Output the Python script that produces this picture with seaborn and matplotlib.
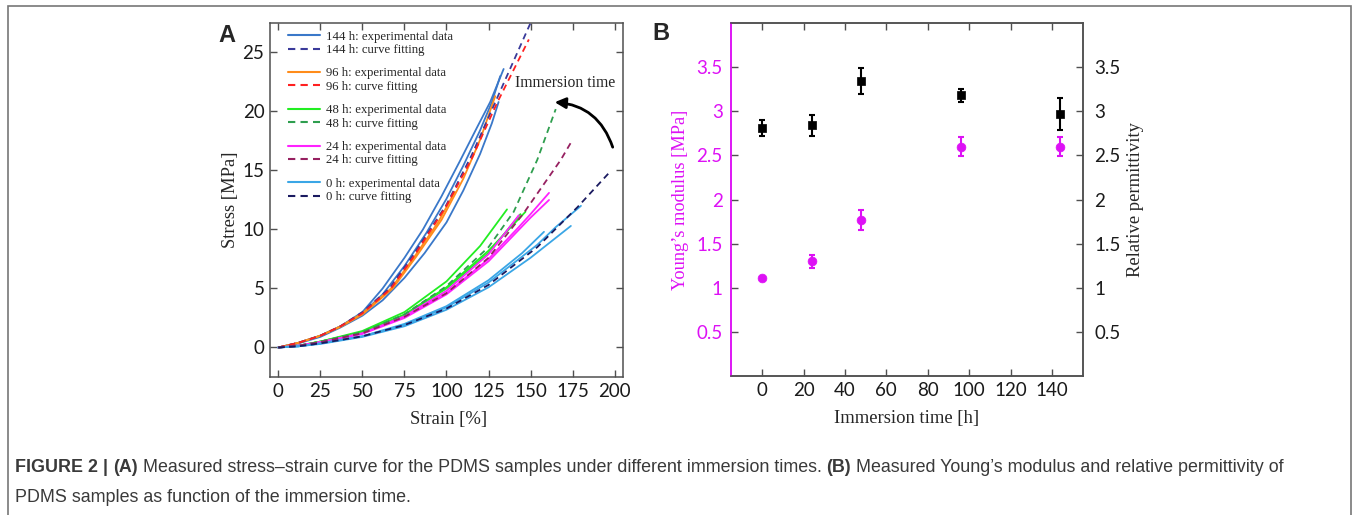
import matplotlib
matplotlib.use("Agg")
import seaborn as sns
import matplotlib.pyplot as plt
from matplotlib.lines import Line2D
from matplotlib.legend import Legend
from matplotlib.patches import Rectangle

# ---------------- Panel A: stress-strain curves (strain %, stress MPa) ----------------
exp_144h = [
    ([0, 12, 25, 37, 50, 62, 75, 86, 97, 108, 118, 126, 134],
     [0, 0.4, 1.0, 1.8, 3.0, 5.0, 7.6, 10.0, 12.8, 15.8, 18.6, 20.8, 23.6]),
    ([0, 12, 25, 37, 50, 62, 75, 88, 100, 110, 120, 127, 132],
     [0, 0.4, 1.0, 1.8, 2.9, 4.5, 6.9, 9.7, 12.6, 15.4, 18.4, 20.8, 23.0]),
    ([0, 12, 25, 37, 50, 62, 75, 87, 100, 110, 120, 127, 131],
     [0, 0.35, 0.9, 1.7, 2.7, 4.0, 5.9, 8.0, 10.6, 13.3, 16.4, 19.0, 20.8]),
]
fit_144h = ([0, 12, 25, 37, 50, 66, 80, 100, 115, 125, 150],
            [0, 0.4, 1.0, 1.8, 3.0, 5.0, 7.8, 12.1, 16.3, 19.5, 27.5])

exp_96h = [
    ([0, 12, 25, 37, 50, 67, 80, 95, 105],
     [0, 0.4, 1.0, 1.8, 2.9, 5.0, 7.5, 10.6, 13.2]),
    ([0, 12, 25, 37, 50, 68, 82, 97, 110, 120, 129],
     [0, 0.4, 1.0, 1.75, 2.8, 5.0, 7.7, 10.8, 14.3, 17.6, 21.3]),
]
fit_96h = ([0, 12, 25, 37, 50, 67, 80, 100, 115, 130, 149],
           [0, 0.4, 1.0, 1.8, 2.9, 5.0, 7.6, 12.0, 16.0, 20.7, 26.1])

exp_48h = [
    ([0, 12, 25, 50, 75, 100, 120, 136], [0, 0.15, 0.5, 1.4, 3.0, 5.6, 8.6, 11.7]),
    ([0, 12, 25, 50, 75, 100, 125, 147], [0, 0.15, 0.5, 1.3, 2.8, 5.1, 8.2, 11.5]),
    ([0, 12, 25, 50, 75, 100, 125, 144], [0, 0.15, 0.5, 1.3, 2.75, 5.0, 8.0, 11.3]),
]
fit_48h = ([0, 12, 25, 50, 75, 100, 125, 140, 154, 165],
           [0, 0.15, 0.5, 1.3, 2.8, 5.2, 8.5, 11.5, 15.9, 20.2])

exp_24h = [
    ([0, 12, 25, 50, 75, 100, 125, 143, 150, 161], [0, 0.15, 0.45, 1.2, 2.6, 4.6, 7.5, 10.2, 11.3, 13.1]),
    ([0, 12, 25, 50, 75, 100, 125, 150, 161], [0, 0.15, 0.45, 1.15, 2.5, 4.5, 7.3, 11.0, 12.5]),
    ([0, 12, 25, 50, 75, 100, 125, 143], [0, 0.15, 0.45, 1.2, 2.65, 4.8, 7.9, 11.2]),
]
fit_24h = ([0, 12, 25, 50, 75, 100, 125, 146, 168, 175],
           [0, 0.15, 0.45, 1.2, 2.6, 4.6, 7.6, 11.4, 15.9, 17.6])

exp_0h = [
    ([0, 12, 25, 50, 75, 100, 125, 145, 158], [0, 0.1, 0.35, 0.95, 2.0, 3.5, 5.7, 8.0, 9.8]),
    ([0, 12, 25, 50, 75, 100, 125, 150, 174], [0, 0.1, 0.3, 0.9, 1.8, 3.2, 5.1, 7.6, 10.3]),
    ([0, 12, 25, 50, 75, 100, 125, 154, 165, 180], [0, 0.1, 0.35, 0.95, 1.9, 3.4, 5.5, 8.7, 10.2, 12.0]),
]
fit_0h = ([0, 12, 25, 50, 75, 100, 125, 154, 178, 198],
          [0, 0.1, 0.35, 0.95, 1.9, 3.3, 5.3, 8.5, 11.9, 15.0])

groups = ["144 h", "96 h", "48 h", "24 h", "0 h"]
exp_colors = ["#3a78c9", "#ff8c1a", "#22ee22", "#ff22ff", "#3aa6e6"]
fit_colors = ["#3a3a9a", "#ff2020", "#2e9e4e", "#962060", "#1a1a60"]

# ---------------- Panel B: modulus and permittivity ----------------
time_h = [0, 24, 48, 96, 144]
modulus = [1.11, 1.30, 1.77, 2.60, 2.60]
modulus_err = [0.0, 0.075, 0.11, 0.11, 0.11]
permittivity = [2.81, 2.84, 3.34, 3.18, 2.97]
permittivity_err = [0.09, 0.12, 0.15, 0.07, 0.18]

SPINE = "#505050"
MAGENTA = "#dd11f5"
SERIF = ["Liberation Serif", "DejaVu Serif"]

sns.set_style("ticks")
plt.rcParams["font.family"] = ["Lato", "DejaVu Sans"]

fig = plt.figure(figsize=(13.54, 5.15), dpi=100)
fig.patch.set_facecolor("white")

ax = fig.add_axes([0.1994, 0.268, 0.2607, 0.6874])
axb = fig.add_axes([0.5399, 0.2699, 0.26, 0.6854])

# panel A curves
exp_sets = [exp_144h, exp_96h, exp_48h, exp_24h, exp_0h]
fit_sets = [fit_144h, fit_96h, fit_48h, fit_24h, fit_0h]
for curves, col in zip(exp_sets, exp_colors):
    for xs, ys in curves:
        sns.lineplot(x=xs, y=ys, ax=ax, color=col, lw=1.3, estimator=None,
                     sort=False, legend=False)
for (xs, ys), col in zip(fit_sets, fit_colors):
    sns.lineplot(x=xs, y=ys, ax=ax, color=col, lw=1.3, estimator=None,
                 sort=False, legend=False, linestyle=(0, (3.5, 2.5)))

ax.set_xlim(-5, 205)
ax.set_ylim(-2.5, 27.5)
ax.set_xticks(range(0, 201, 25))
ax.set_yticks(range(0, 26, 5))
ax.set_xlabel("Strain [%]", family=SERIF, fontsize=13.4)
ax.set_ylabel("Stress [MPa]", family=SERIF, fontsize=13.4)
ax.xaxis.set_label_coords(0.505, -0.095)
ax.yaxis.set_label_coords(-0.088, 0.5)

# grouped legend: one small legend per immersion time
for i, (g, ce, cf) in enumerate(zip(groups, exp_colors, fit_colors)):
    handles = [Line2D([], [], color=ce, lw=1.5),
               Line2D([], [], color=cf, lw=1.5, linestyle=(0, (3.5, 2.5)))]
    labels = [f"{g}: experimental data", f"{g}: curve fitting"]
    yc = 43.4 + i * 36.75
    leg = Legend(ax, handles, labels, loc="center left",
                 bbox_to_anchor=(0.051, 1 - (yc - 23) / 354),
                 frameon=False, borderpad=0, borderaxespad=0,
                 handlelength=2.5, handletextpad=0.5, labelspacing=0.1,
                 prop={"family": SERIF, "size": 9.2})
    ax.add_artist(leg)

ax.annotate("", xy=(162.7, 20.8), xytext=(199.4, 16.75),
            arrowprops=dict(arrowstyle="-|>", connectionstyle="arc3,rad=0.35",
                            color="black", lw=2, mutation_scale=16))
ax.text(141, 22.4, "Immersion time", family=SERIF, fontsize=11.3, va="center")

# panel B
axr = axb.twinx()
axb.errorbar(time_h, modulus, yerr=modulus_err, fmt="none", ecolor=MAGENTA,
             elinewidth=1.5, capsize=2.5, capthick=1.5)
sns.scatterplot(x=time_h, y=modulus, ax=axb, color=MAGENTA, marker="o", s=40,
                edgecolor=MAGENTA, zorder=3)
axr.errorbar(time_h, permittivity, yerr=permittivity_err, fmt="none",
             ecolor="black", elinewidth=1.5, capsize=2.5, capthick=1.5)
sns.scatterplot(x=time_h, y=permittivity, ax=axr, color="black", marker="s",
                s=40, edgecolor="black", zorder=3)

for a in (axb, axr):
    a.set_ylim(0, 4)
    a.set_yticks([0.5, 1, 1.5, 2, 2.5, 3, 3.5])
    a.set_yticklabels(["0.5", "1", "1.5", "2", "2.5", "3", "3.5"])
axb.set_xlim(-15, 155)
axb.set_xticks(range(0, 141, 20))
axb.set_xlabel("Immersion time [h]", family=SERIF, fontsize=13.4)
axb.set_ylabel("Young\u2019s modulus [MPa]", family=SERIF, fontsize=13.2, color=MAGENTA)
axr.set_ylabel("Relative permittivity", family=SERIF, fontsize=13.4, rotation=90)
axb.xaxis.set_label_coords(0.5, -0.097)
axb.yaxis.set_label_coords(-0.118, 0.5)
axr.yaxis.set_label_coords(1.124, 0.5)

# axis styling
for a in (ax, axb, axr):
    for s in a.spines.values():
        s.set_color(SPINE)
        s.set_linewidth(1.1)
    a.tick_params(direction="in", length=5, width=1, color=SPINE, labelsize=13.5,
                  labelcolor="#1a1a1a")
ax.tick_params(top=True, right=True)
ax.tick_params(axis="x", pad=4)
ax.tick_params(axis="y", pad=4)
axb.tick_params(top=True, axis="x", pad=4)
axb.tick_params(axis="y", labelcolor=MAGENTA, pad=6)
axr.tick_params(axis="y", pad=8)
axb.spines["left"].set_color(MAGENTA)
axr.spines["left"].set_color(MAGENTA)

# panel letters
fig.text(227 / 1354, 1 - 35 / 515, "A", fontsize=17, weight="bold",
         family=["Liberation Sans", "DejaVu Sans"], ha="center", va="center")
fig.text(661 / 1354, 1 - 34 / 515, "B", fontsize=17, weight="bold",
         family=["Liberation Sans", "DejaVu Sans"], ha="center", va="center")

# caption
cap = fig.add_axes([0, 0, 1, 1])
cap.axis("off")
CAPF = ["Liberation Sans", "DejaVu Sans"]
cs = 12.85
line1 = [("FIGURE 2 | ", "bold"), ("(A)", "bold"),
         (" Measured stress\u2013strain curve for the PDMS samples under different immersion times. ", "normal"),
         ("(B)", "bold"),
         (" Measured Young\u2019s modulus and relative permittivity of", "normal")]
prev = None
for txt, w in line1:
    if prev is None:
        prev = cap.text(15 / 1354, 1 - 468 / 515, txt, fontsize=cs, weight=w,
                        family=CAPF, va="center", color="#3a3a3a")
    else:
        prev = cap.annotate(txt, xy=(1, 0), xycoords=prev, va="bottom", ha="left",
                            fontsize=cs, weight=w, family=CAPF, color="#3a3a3a",
                            annotation_clip=False)
cap.text(15 / 1354, 1 - 497 / 515, "PDMS samples as function of the immersion time.",
         fontsize=cs, family=CAPF, va="center", color="#3a3a3a")

# outer frame
fig.add_artist(Rectangle((8 / 1354, -0.1), (1351 - 8) / 1354, 1.1 - 6 / 515,
                         transform=fig.transFigure, fill=False,
                         edgecolor="#777777", lw=1.2))

fig.savefig("out.png", dpi=100)
